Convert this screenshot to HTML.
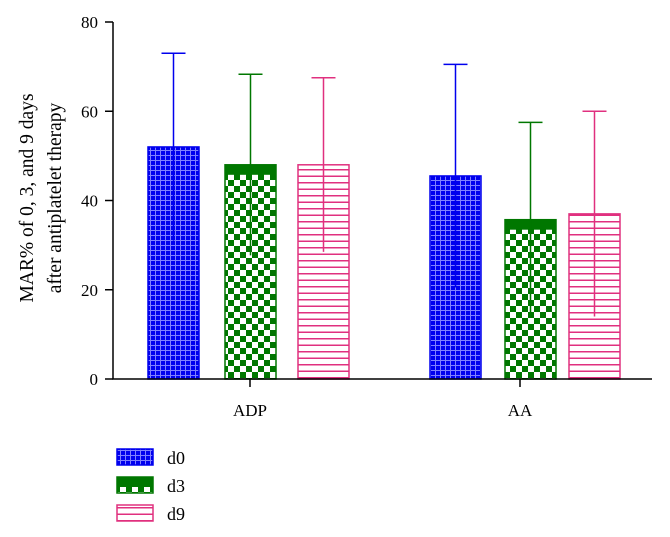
<!DOCTYPE html>
<html><head><meta charset="utf-8"><style>
body{margin:0;background:#fff}
svg{display:block}
text{font-family:"Liberation Serif",serif;fill:#000}
</style></head><body>
<svg id="chart" width="670" height="537" viewBox="0 0 670 537" xmlns="http://www.w3.org/2000/svg">
<defs>
<pattern id="pd0" width="5" height="5" patternUnits="userSpaceOnUse"><rect width="5" height="5" fill="#0000ee"/><path d="M0 0.5H5M0.5 0V5" stroke="#8080ff" stroke-width="1"/></pattern>
<pattern id="pd3" width="12" height="12" patternUnits="userSpaceOnUse"><rect width="12" height="12" fill="#fff"/><rect width="6" height="6" fill="#007700"/><rect x="6" y="6" width="6" height="6" fill="#007700"/></pattern>
<pattern id="pd9" width="6" height="6.5" patternUnits="userSpaceOnUse"><rect width="6" height="6.5" fill="#fff"/><path d="M0 0.75H6" stroke="#e0307f" stroke-width="1.5"/></pattern>
</defs>
<g id="plot"></g>
</svg>
<script>
const groups=["ADP","AA"];
const seriesNames=["d0","d3","d9"];
const d0Values=[52,45.5];
const d3Values=[48,35.7];
const d9Values=[48,37];
const d0Err=[21,25];
const d3Err=[20.3,21.8];
const d9Err=[19.5,23];
const yTicks=[0,20,40,60,80];
const colors=["#0000ee","#007700","#e0307f"];
const NS="http://www.w3.org/2000/svg";
const g=document.getElementById('plot');
const y0=379,y1=22,x0=113;
const yScale=v=>y0-(v/80)*(y0-y1);
const barLeft=[[148,225,298],[430,505,569]];
const groupCenter=[250,520];
const barW=51;
function mk(t,a){const e=document.createElementNS(NS,t);for(const k in a)e.setAttribute(k,a[k]);g.appendChild(e);return e;}
const vals=[d0Values,d3Values,d9Values],errs=[d0Err,d3Err,d9Err];
groups.forEach((grp,gi)=>{
  seriesNames.forEach((s,si)=>{
    const v=vals[si][gi],e=errs[si][gi];
    const x=barLeft[gi][si],cx=x+barW/2;
    const top=yScale(v);
    let el=mk('rect',{x:x,y:top,width:barW,height:y0-top,fill:'url(#pd'+s.slice(1)+')',stroke:colors[si],'stroke-width':1.5});
    
    
    if(si===1){let b=mk('rect',{x:x,y:top,width:barW,height:Math.min(10,y0-top),fill:colors[si]});}
    const lo=Math.max(0,v-e),hi=v+e;
    let l=mk('line',{x1:cx,x2:cx,y1:yScale(lo),y2:yScale(hi),stroke:colors[si],'stroke-width':1.5});
    
    
    let c=mk('line',{x1:cx-12,x2:cx+12,y1:yScale(hi),y2:yScale(hi),stroke:colors[si],'stroke-width':1.5});
    
    
  });
  let tk=mk('line',{x1:groupCenter[gi],x2:groupCenter[gi],y1:y0,y2:y0+8,stroke:'#000','stroke-width':1.5});
  
  
  let t=mk('text',{x:groupCenter[gi],y:416,'font-size':17,'text-anchor':'middle'});
  t.textContent=grp;
  
  
});
let ax=mk('path',{d:`M${x0} ${y1}V${y0}H652`,stroke:'#000','stroke-width':1.5,fill:'none'});


yTicks.forEach(v=>{
  const y=yScale(v);
  let tk=mk('line',{x1:x0-8,x2:x0,y1:y,y2:y,stroke:'#000','stroke-width':1.5});
  
  
  let t=mk('text',{x:x0-15,y:y+6,'font-size':17,'text-anchor':'end'});
  t.textContent=v;
  
  
});
let yt=mk('text',{x:0,y:0,'font-size':19.5,'text-anchor':'middle',transform:'translate(33,198) rotate(-90)'});
yt.innerHTML='<tspan x="0" dy="0">MAR% of 0, 3, and 9 days</tspan><tspan x="0" dy="28">after antiplatelet therapy</tspan>';


const legY=[449,477,505];
seriesNames.forEach((s,si)=>{
  let r=mk('rect',{x:117,y:legY[si],width:36,height:16,fill:'url(#pd'+s.slice(1)+')',stroke:colors[si],'stroke-width':1.5});
  
  
  if(si===1){let b=mk('rect',{x:117,y:legY[si],width:36,height:10,fill:colors[si]});}
  let t=mk('text',{x:167,y:legY[si]+15,'font-size':18});
  t.textContent=s;
  
  
});
</script>
</body></html>
